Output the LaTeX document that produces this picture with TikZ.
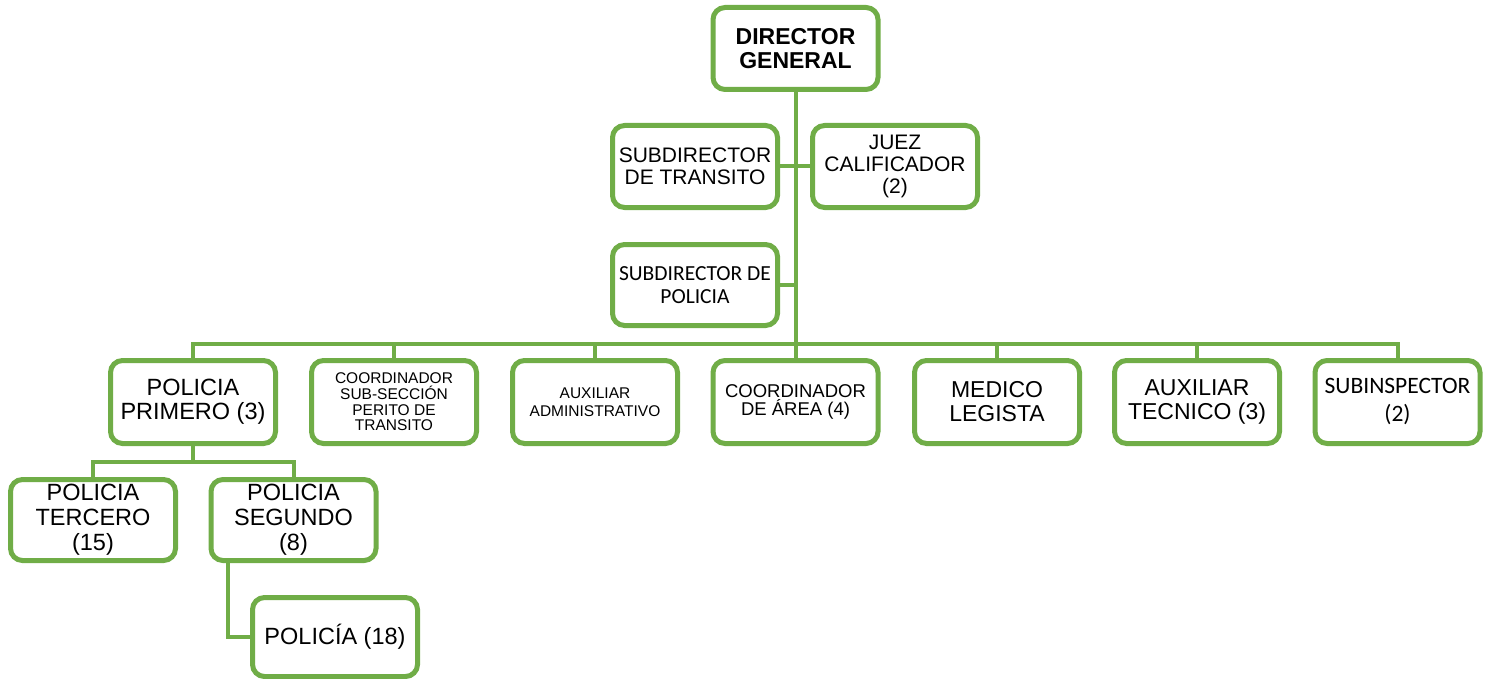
\documentclass[tikz,border=0pt]{standalone}
\usepackage{fontspec}
\setmainfont{Liberation Sans}
\newfontfamily\calib{Carlito}
\definecolor{grn}{RGB}{112,173,71}
\tikzset{
  box/.style={draw=grn, line width=5pt, rounded corners=12pt, fill=white,
    minimum width=165pt, minimum height=82pt, align=center, inner sep=0pt},
  conn/.style={draw=grn, line width=4pt},
}
\newcommand{\fs}[2]{\fontsize{#1}{#2}\selectfont}
\begin{document}
\begin{tikzpicture}[x=1pt,y=-1pt]
\useasboundingbox (0,0) rectangle (1490,679);
% top
\node[box, font=\fs{23}{23.5}\bfseries] (dg) at (795.5,48.5) {DIRECTOR\\GENERAL};
\node[box, font=\fs{21}{22}] (st) at (695,166.5) {SUBDIRECTOR\\DE TRANSITO};
\node[box, font=\fs{21}{22}] (jz) at (895,166.5) {JUEZ\\CALIFICADOR\\(2)};
\node[box, minimum height=81pt, font=\calib\fs{21.5}{23}] (sp) at (695,285) {SUBDIRECTOR DE\\POLICIA};
% row 2
\node[box, minimum height=83pt, font=\fs{23.5}{24}] (pp) at (193,402) {POLICIA\\PRIMERO (3)};
\node[box, minimum height=83pt, font=\fs{15.5}{15.7}] (css) at (394,402) {COORDINADOR\\SUB-SECCIÓN\\PERITO DE\\TRANSITO};
\node[box, minimum height=83pt, font=\fs{15.5}{17.5}] (aa) at (595,402) {AUXILIAR\\ADMINISTRATIVO};
\node[box, minimum height=83pt, font=\fs{18.5}{18.5}] (ca) at (795.5,402) {COORDINADOR\\DE ÁREA (4)};
\node[box, minimum height=83pt, font=\fs{23}{24}] (ml) at (997,402) {MEDICO\\LEGISTA};
\node[box, minimum height=83pt, font=\fs{23}{24}] (at) at (1197,402) {AUXILIAR\\TECNICO (3)};
\node[box, minimum height=83pt, font=\calib\fs{23.5}{28}] (si) at (1397.5,402) {SUBINSPECTOR\\(2)};
% row 3
\node[box, minimum height=81pt, font=\fs{23.5}{25}] (pt) at (93,520) {POLICIA\\TERCERO\\(15)};
\node[box, minimum height=81pt, font=\fs{23.5}{25}] (ps) at (293.5,520) {POLICIA\\SEGUNDO\\(8)};
\node[box, minimum height=79pt, font=\fs{23.5}{25}] (pq) at (335,637) {POLICÍA (18)};
% connectors
\coordinate (bus) at (795.5,344);
\coordinate (bus2) at (193,462);
\draw[conn] (dg.south) -- (dg.south |- bus);
\draw[conn] (st.east) -- (jz.west);
\draw[conn] (sp.east) -- (sp.east -| dg.south);
\draw[conn] (pp.north) -- (pp.north |- bus) -- (si.north |- bus) -- (si.north);
\foreach \n in {css,aa,ca,ml,at} \draw[conn] (\n.north) -- (\n.north |- bus);
\draw[conn] (pp.south) -- (bus2);
\draw[conn] (pt.north) -- (pt.north |- bus2) -- (ps.north |- bus2) -- (ps.north);
\draw[conn] ([xshift=19pt]ps.south west) |- (pq.west);
\end{tikzpicture}
\end{document}
